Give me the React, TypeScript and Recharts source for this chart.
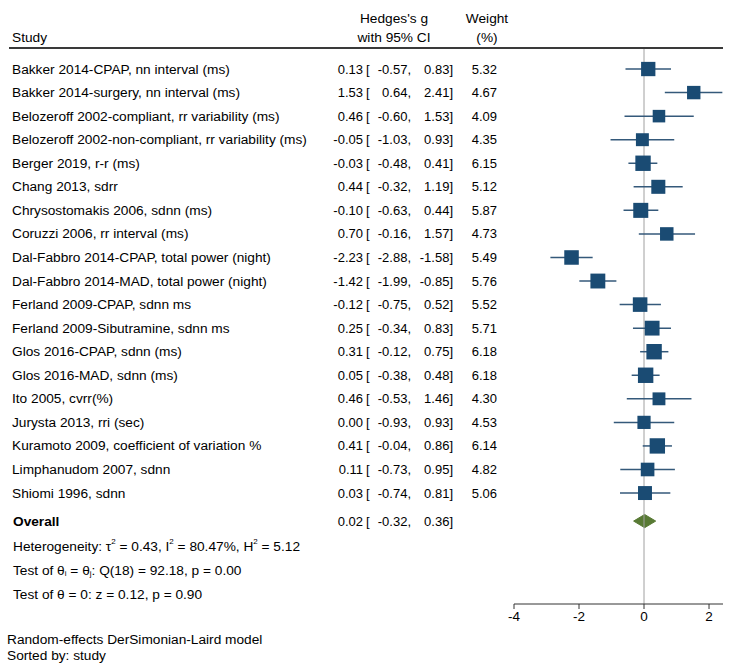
import { ComposedChart, Scatter, ErrorBar, Area, XAxis, YAxis, ReferenceLine } from "recharts";

const STUDIES = [
  "Bakker 2014-CPAP, nn interval (ms)",
  "Bakker 2014-surgery, nn interval (ms)",
  "Belozeroff 2002-compliant, rr variability (ms)",
  "Belozeroff 2002-non-compliant, rr variability (ms)",
  "Berger 2019, r-r (ms)",
  "Chang 2013, sdrr",
  "Chrysostomakis 2006, sdnn (ms)",
  "Coruzzi 2006, rr interval (ms)",
  "Dal-Fabbro 2014-CPAP, total power (night)",
  "Dal-Fabbro 2014-MAD, total power (night)",
  "Ferland 2009-CPAP, sdnn ms",
  "Ferland 2009-Sibutramine, sdnn ms",
  "Glos 2016-CPAP, sdnn (ms)",
  "Glos 2016-MAD, sdnn (ms)",
  "Ito 2005, cvrr(%)",
  "Jurysta 2013, rri (sec)",
  "Kuramoto 2009, coefficient of variation %",
  "Limphanudom 2007, sdnn",
  "Shiomi 1996, sdnn",
];
const G = [0.13, 1.53, 0.46, -0.05, -0.03, 0.44, -0.1, 0.7, -2.23, -1.42, -0.12, 0.25, 0.31, 0.05, 0.46, 0.0, 0.41, 0.11, 0.03];
const LO = [-0.57, 0.64, -0.6, -1.03, -0.48, -0.32, -0.63, -0.16, -2.88, -1.99, -0.75, -0.34, -0.12, -0.38, -0.53, -0.93, -0.04, -0.73, -0.74];
const HI = [0.83, 2.41, 1.53, 0.93, 0.41, 1.19, 0.44, 1.57, -1.58, -0.85, 0.52, 0.83, 0.75, 0.48, 1.46, 0.93, 0.86, 0.95, 0.81];
const WEIGHT = [5.32, 4.67, 4.09, 4.35, 6.15, 5.12, 5.87, 4.73, 5.49, 5.76, 5.52, 5.71, 6.18, 6.18, 4.3, 4.53, 6.14, 4.82, 5.06];

const OVERALL_G = 0.02;
const OVERALL_LO = -0.32;
const OVERALL_HI = 0.36;

const X_TICKS = [-4, -2, 0, 2];

// row slots on the y scale (study rows are 0..18)
const ROW_OVERALL = 19.19;
const ROW_HET = 20.25;
const ROW_Q = 21.27;
const ROW_Z = 22.29;

const FONT = '"Liberation Sans", Arial, Helvetica, sans-serif';
const TXT = 13.7; // label text
const NUM = 13; // numeric columns
const SQUARE = "#1a4b73";
const CI = "#34597a";
const DIAMOND = "#587a34";

const rows = STUDIES.map((_, i) => ({
  x: G[i],
  y: i,
  err: [G[i] - LO[i], HI[i] - G[i]],
  w: WEIGHT[i],
}));

const diamond = [
  { x: OVERALL_LO, band: [ROW_OVERALL, ROW_OVERALL] },
  { x: OVERALL_G, band: [ROW_OVERALL - 0.28, ROW_OVERALL + 0.28] },
  { x: OVERALL_HI, band: [ROW_OVERALL, ROW_OVERALL] },
];

const yTicks = [...STUDIES.map((_, i) => i), ROW_OVERALL, ROW_HET, ROW_Q, ROW_Z];

function Stats({ y, g, lo, hi, w }: { y: number; g: number; lo: number; hi: number; w?: number }) {
  return (
    <g fontSize={NUM} fill="#000">
      <text x={363} y={y} textAnchor="end" dominantBaseline="central">{g.toFixed(2)}</text>
      <text x={366} y={y} dominantBaseline="central">[</text>
      <text x={411} y={y} textAnchor="end" dominantBaseline="central">{lo.toFixed(2)},</text>
      <text x={453} y={y} textAnchor="end" dominantBaseline="central">{hi.toFixed(2)}]</text>
      {w !== undefined && (
        <text x={497} y={y} textAnchor="end" dominantBaseline="central">{w.toFixed(2)}</text>
      )}
    </g>
  );
}

function RowTick(props: any) {
  const { y, payload } = props;
  const v = payload.value;
  const base = { x: 13, y, fontSize: TXT, fill: "#000", dominantBaseline: "central" as const };
  if (v === ROW_OVERALL) {
    return (
      <g>
        <text {...base} fontWeight="bold">Overall</text>
        <Stats y={y} g={OVERALL_G} lo={OVERALL_LO} hi={OVERALL_HI} />
      </g>
    );
  }
  if (v === ROW_HET) {
    return (
      <text {...base}>
        Heterogeneity: τ<tspan dy={-5} fontSize={8}>2</tspan>
        <tspan dy={5}> = 0.43, I</tspan><tspan dy={-5} fontSize={8}>2</tspan>
        <tspan dy={5}> = 80.47%, H</tspan><tspan dy={-5} fontSize={8}>2</tspan>
        <tspan dy={5}> = 5.12</tspan>
      </text>
    );
  }
  if (v === ROW_Q) {
    return (
      <text {...base}>
        Test of θ<tspan dy={3} fontSize={8}>i</tspan>
        <tspan dy={-3}> = θ</tspan><tspan dy={3} fontSize={8}>j</tspan>
        <tspan dy={-3}>: Q(18) = 92.18, p = 0.00</tspan>
      </text>
    );
  }
  if (v === ROW_Z) {
    return <text {...base}>Test of θ = 0: z = 0.12, p = 0.90</text>;
  }
  const i = Math.round(v);
  return (
    <g>
      <text {...base} x={12}>{STUDIES[i]}</text>
      <Stats y={y} g={G[i]} lo={LO[i]} hi={HI[i]} w={WEIGHT[i]} />
    </g>
  );
}

function WeightSquare(props: any) {
  const { cx, cy, payload } = props;
  const s = 6.2 * Math.sqrt(payload.w);
  return <rect x={cx - s / 2} y={cy - s / 2} width={s} height={s} fill={SQUARE} />;
}

const abs = (left: number, top: number, extra: any = {}) => ({
  position: "absolute" as const,
  left,
  top,
  fontSize: TXT,
  lineHeight: "15px",
  whiteSpace: "nowrap" as const,
  ...extra,
});

export default function App() {
  return (
    <div style={{ position: "absolute", left: 0, top: 0, width: 733, height: 668, background: "#fff", fontFamily: FONT, color: "#000" }}>
      <div style={abs(12, 30)}>Study</div>
      <div style={abs(344, 11, { width: 100, textAlign: "center" })}>Hedges's g</div>
      <div style={abs(344, 30, { width: 100, textAlign: "center" })}>with 95% CI</div>
      <div style={abs(457, 11, { width: 60, textAlign: "center" })}>Weight</div>
      <div style={abs(457, 30, { width: 60, textAlign: "center" })}>(%)</div>
      <div style={{ position: "absolute", left: 9, top: 47, width: 714, height: 2, background: "#3a3a3a" }} />

      <div style={{ position: "absolute", left: 0, top: 0 }}>
        <ComposedChart width={733} height={668} margin={{ top: 49, right: 10, bottom: 34, left: 0 }}>
          <ReferenceLine x={0} stroke="#a0a0a0" strokeWidth={1} />
          <XAxis
            type="number"
            dataKey="x"
            domain={[-4, 2.43]}
            ticks={X_TICKS}
            allowDataOverflow
            height={30}
            tickSize={5}
            axisLine={{ stroke: "#333" }}
            tickLine={{ stroke: "#333" }}
            tick={{ fill: "#000", fontSize: 13.5 }}
          />
          <YAxis
            type="number"
            dataKey="y"
            reversed
            domain={[-0.85, 22.71]}
            allowDataOverflow
            ticks={yTicks}
            interval={0}
            width={514}
            axisLine={false}
            tickLine={false}
            tick={<RowTick />}
          />
          <Area
            data={diamond}
            dataKey="band"
            type="linear"
            fill={DIAMOND}
            fillOpacity={1}
            stroke={DIAMOND}
            dot={false}
            activeDot={false}
            isAnimationActive={false}
          />
          <Scatter data={rows} shape={<WeightSquare />} isAnimationActive={false}>
            <ErrorBar dataKey="err" direction="x" width={0} stroke={CI} strokeWidth={1.5} isAnimationActive={false} />
          </Scatter>
        </ComposedChart>
      </div>

      <div style={abs(7, 632)}>Random-effects DerSimonian-Laird model</div>
      <div style={abs(7, 648)}>Sorted by: study</div>
    </div>
  );
}
